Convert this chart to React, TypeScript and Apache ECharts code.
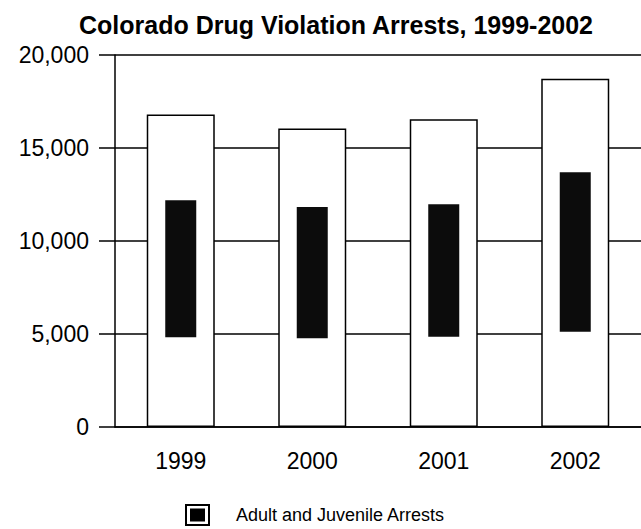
import React, { useEffect, useRef } from "react";
import * as echarts from "echarts";

const years = ["1999", "2000", "2001", "2002"];
const arrests = [16800, 16050, 16550, 18720];
// dark scanned pattern band inside each bar (low / high edge)
const patternLow = [4820, 4770, 4850, 5120];
const patternHigh = [12190, 11830, 11970, 13690];
const yTicks = [0, 5000, 10000, 15000, 20000];

const FONT = "'Liberation Sans', Arial, sans-serif";
const LEGEND_ICON =
  "path://M0 0L25 0L25 22L0 22Z M2 2L2 20L23 20L23 2Z M5 4.5L20 4.5L20 17.5L5 17.5Z";

export default function App() {
  const ref = useRef<HTMLDivElement>(null);
  useEffect(() => {
    if (!ref.current) return;
    const chart = echarts.init(ref.current, null, { renderer: "svg" });
    const patternSpan = patternHigh.map((h, i) => h - patternLow[i]);
    chart.setOption({
      animation: false,
      backgroundColor: "#ffffff",
      title: {
        text: "Colorado Drug Violation Arrests, 1999-2002",
        left: 331,
        textAlign: "center",
        top: 7,
        textStyle: { fontFamily: FONT, fontSize: 25, fontWeight: "bold", color: "#000" },
      },
      legend: {
        left: 185,
        top: 504,
        padding: 0,
        itemWidth: 25,
        itemHeight: 22,
        data: [
          {
            name: "Adult and Juvenile Arrests",
            icon: LEGEND_ICON,
            itemStyle: { color: "#000", borderWidth: 0 },
          },
        ],
        textStyle: { fontFamily: FONT, fontSize: 18, color: "#000", padding: [0, 0, 0, 21] },
      },
      grid: { left: 115, top: 55, bottom: 102, right: -5 },
      xAxis: [
        {
          type: "category",
          data: years,
          axisLine: { lineStyle: { color: "#000", width: 1.5 } },
          axisTick: { alignWithLabel: true, length: 15, lineStyle: { color: "#000", width: 1.5 } },
          axisLabel: { fontFamily: FONT, fontSize: 23, color: "#000", margin: 22 },
        },
        {
          type: "category",
          data: years,
          show: false,
          position: "bottom",
        },
      ],
      yAxis: {
        type: "value",
        min: yTicks[0],
        max: yTicks[yTicks.length - 1],
        interval: 5000,
        axisLine: { show: true, lineStyle: { color: "#000", width: 1.5 } },
        axisTick: { show: true, length: 16, lineStyle: { color: "#000", width: 1.5 } },
        axisLabel: {
          fontFamily: FONT,
          fontSize: 23,
          color: "#000",
          margin: 26,
          formatter: (v: number) => v.toLocaleString("en-US"),
        },
        splitLine: { show: true, lineStyle: { color: "#000", width: 1.5 } },
      },
      series: [
        {
          name: "Adult and Juvenile Arrests",
          type: "bar",
          xAxisIndex: 0,
          data: arrests,
          barWidth: 68,
          itemStyle: { color: "#fff", borderColor: "#000", borderWidth: 1.5 },
        },
        {
          name: "patternBase",
          type: "bar",
          xAxisIndex: 1,
          stack: "p",
          data: patternLow,
          barWidth: 31,
          itemStyle: { color: "rgba(0,0,0,0)" },
          silent: true,
        },
        {
          name: "patternFill",
          type: "bar",
          xAxisIndex: 1,
          stack: "p",
          data: patternSpan,
          barWidth: 31,
          itemStyle: { color: "#0c0c0c" },
          silent: true,
        },
      ],
    });
    return () => chart.dispose();
  }, []);
  return (
    <div
      ref={ref}
      style={{ position: "fixed", left: 0, top: 0, width: 641, height: 529, background: "#fff" }}
    />
  );
}
